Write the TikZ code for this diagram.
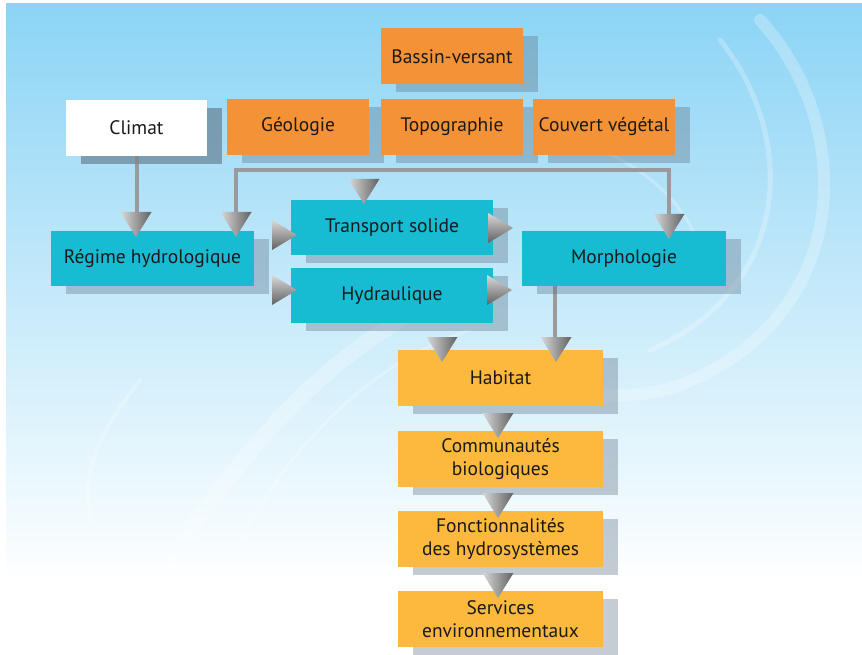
\documentclass[tikz,border=0pt]{standalone}
\usepackage{fontspec}
\setmainfont{PT Sans}
\usetikzlibrary{shadows,calc}
\definecolor{bgtop}{HTML}{8CD4F5}
\definecolor{orangebox}{HTML}{F39237}
\definecolor{cyanbox}{HTML}{17BCD3}
\definecolor{yellowbox}{HTML}{FDB93E}
\definecolor{linegray}{HTML}{9A9A9A}
\definecolor{shadowc}{HTML}{5A6E80}
\definecolor{txt}{HTML}{1A1A1A}
\begin{document}
\begin{tikzpicture}[x=1pt,y=-1pt,
  box/.style={rectangle, inner sep=0pt, text=txt, align=center,
    font=\fontsize{19.5}{23}\selectfont,
    general shadow={shadow xshift=15pt, shadow yshift=-8pt, fill=shadowc, opacity=0.35}},
  obox/.style={box, fill=orangebox, minimum width=142pt, minimum height=56pt},
  wbox/.style={box, fill=white, minimum width=141pt, minimum height=56pt},
  cbox/.style={box, fill=cyanbox, minimum width=203pt, minimum height=55pt},
  ybox/.style={box, fill=yellowbox, minimum width=205pt, minimum height=56pt},
  conn/.style={draw=linegray, line width=4pt},
  swirl/.style={draw=white, opacity=0.25, line cap=round},
  dtri/.pic={\shade[left color=gray!30, right color=black!62] (-15.5,-25) -- (15.5,-25) -- (0,0) -- cycle;},
  rtri/.pic={\shade[top color=gray!30, bottom color=black!62] (-25,-15) -- (-25,15) -- (0,0) -- cycle;}
]
\useasboundingbox (0,0) rectangle (862,655);
\fill[white] (0,0) rectangle (862,655);
\shade[top color=bgtop, bottom color=white] (6,4) rectangle (862,583);
% decorative splash
\draw[swirl, line width=12pt] (760,20) .. controls (860,130) and (850,320) .. (680,385) .. controls (620,405) and (560,395) .. (520,365);
\draw[swirl, line width=5pt] (720,40) .. controls (800,140) and (790,290) .. (650,350);
\draw[swirl, line width=3pt] (600,150) .. controls (650,170) and (690,210) .. (700,250);
\draw[swirl, line width=16pt] (170,560) .. controls (230,470) and (300,380) .. (400,320);
\draw[swirl, line width=4pt] (90,520) .. controls (80,460) and (110,420) .. (140,380);
\draw[swirl, line width=3pt] (240,540) .. controls (300,430) and (380,360) .. (470,330);

% connectors (lines)
\coordinate (bl) at (236,214);
\coordinate (br) at (669,214);
\node[wbox] (climat) at (136.5,128) {Climat};
\draw[conn] (climat.south) -- ++(0,58);
\draw[conn] (bl) -- ++(0,-44) -| (br);

% boxes
\node[obox] (bassin) at (452,56.5) {Bassin-versant};
\node[obox] (geol) at (298,127) {Géologie};
\node[obox] (topo) at (452,127) {Topographie};
\node[obox] (couv) at (604,127) {Couvert végétal};
\node[wbox] at (climat) {Climat};
\node[cbox] (regime) at (152.5,258.5) {Régime hydrologique};
\node[cbox, minimum width=202pt] (transport) at (392,227.5) {Transport solide};
\node[cbox, minimum width=202pt] (hydr) at (392,295.5) {Hydraulique};
\coordinate (mtop) at (555,286);
\draw[conn] (mtop) -- ++(0,54);
\node[cbox, minimum width=204pt] (morph) at (624,258.5) {Morphologie};
\node[ybox] (habitat) at (500.5,378) {Habitat};
\node[ybox] (comm) at (500.5,459) {Communautés\\biologiques};
\node[ybox] (fonc) at (500.5,539) {Fonctionnalités\\des hydrosystèmes};
\node[ybox] (serv) at (500.5,619) {Services\\environnementaux};

% arrowheads
\pic at (136,237) {dtri};
\pic at (236,237) {dtri};
\pic at (364,204) {dtri};
\pic at (669,239) {dtri};
\pic at (297,235) {rtri};
\pic at (297,290) {rtri};
\pic at (513,228) {rtri};
\pic at (512,290) {rtri};
\pic at (442,362) {dtri};
\pic at (556,362) {dtri};
\pic at (498,438) {dtri};
\pic at (498,518) {dtri};
\pic at (498,598) {dtri};
\end{tikzpicture}
\end{document}
